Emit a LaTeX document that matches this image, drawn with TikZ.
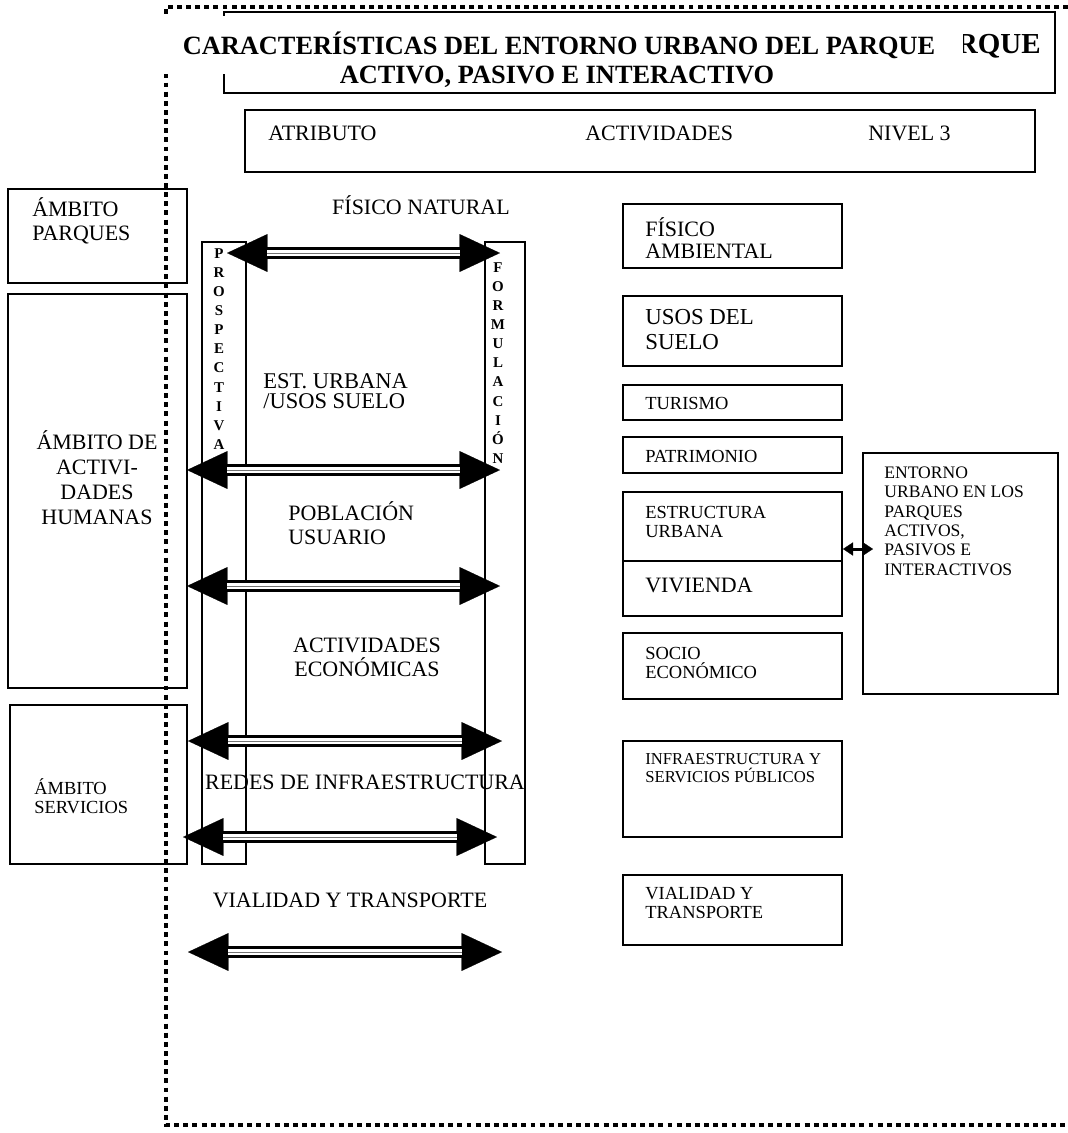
\documentclass[tikz,border=0pt]{standalone}
\usepackage{fontspec}
\setmainfont{Liberation Serif}
\usepackage{xcolor}
\usepackage{tikz}
\usetikzlibrary{arrows.meta, fit}
\tikzstyle{caja} = [rectangle, draw=black, line width=0.8pt, inner sep=0pt]
\tikzstyle{tapa} = [rectangle, fill=white, inner sep=0pt]
\tikzstyle{titulo} = [inner sep=0pt, font=\fontsize{15}{16.5}\selectfont\bfseries]
\tikzstyle{txt} = [inner sep=0pt, align=left, font=\fontsize{12.5}{13.6}\selectfont]
\tikzstyle{txtp} = [inner sep=0pt, align=left, font=\fontsize{10.5}{11.3}\selectfont]
\tikzstyle{letras} = [inner sep=0pt, align=center, font=\fontsize{8.5}{10.85}\selectfont\bfseries]
\tikzstyle{flecha} = [line width=6.8pt, {Triangle[length=23pt, width=21.5pt, line width=0.1pt]}-{Triangle[length=23pt, width=21.5pt, line width=0.1pt]}, postaction={draw=white, line width=3.6pt, arrows=-, shorten <=23pt, shorten >=23pt}, postaction={draw=black!55, line width=0.5pt, arrows=-, shorten <=23pt, shorten >=23pt}]
\tikzstyle{flechita} = [line width=1.7pt, {Triangle[length=5.7pt, width=7.5pt, line width=0.1pt]}-{Triangle[length=5.7pt, width=7.5pt, line width=0.1pt]}]
\tikzstyle{punteado} = [line width=2.6pt, dash pattern=on 2.8pt off 2.4pt]

\begin{document}
\begin{tikzpicture}[x=0.02cm, y=-0.02cm]
\useasboundingbox (0,0) rectangle (1068,1133);

\node (marco) [caja, fit={(224,12) (1055,93)}] {};
\node (resto) [titulo, anchor=east, font=\fontsize{16.5}{18}\selectfont\bfseries] at (1041,46) {RQUE};

\node (cab) [caja, fit={(245,110) (1035,172)}] {};
\node (atr) [txt, anchor=west] at (268,133) {ATRIBUTO};
\node (act) [txt, anchor=west] at (585,133) {ACTIVIDADES};
\node (niv) [txt, anchor=west] at (868,133) {NIVEL 3};

\node (ampq) [caja, fit={(8,189) (187,283)}] {};
\node (tampq) [txt, anchor=west] at (32,221) {ÁMBITO\\PARQUES};
\node (amact) [caja, fit={(8,294) (187,688)}] {};
\node (tamact) [txt, align=center, font=\fontsize{12.5}{14.2}\selectfont] at (97,478) {ÁMBITO DE\\ACTIVI-\\DADES\\HUMANAS};
\node (amser) [caja, fit={(10,705) (187,864)}] {};
\node (tamser) [txtp, anchor=west, font=\fontsize{10.5}{10.8}\selectfont] at (34,796) {ÁMBITO\\SERVICIOS};

\node (prosp) [caja, fit={(202,242) (246,864)}] {};
\node (tprosp) [letras] at (219,349) {P\\R\\O\\S\\P\\E\\C\\T\\I\\V\\A};
\node (form) [caja, fit={(485,242) (525,864)}] {};
\node (tform) [letras] at (498,363) {F\\O\\R\\M\\U\\L\\A\\C\\I\\Ó\\N};

\node (fisnat) [txt] at (421,205) {FÍSICO NATURAL};
\node (esturb) [txt, anchor=west, font=\fontsize{12.8}{11.6}\selectfont] at (263,391) {EST. URBANA\\/USOS SUELO};
\node (pobl) [txt, anchor=west] at (288,523) {POBLACIÓN\\USUARIO};
\node (acteco) [txt, align=center] at (367,657) {ACTIVIDADES\\ECONÓMICAS};
\node (redes) [txt] at (365,782) {REDES DE INFRAESTRUCTURA};
\node (vial) [txt] at (350,900) {VIALIDAD Y TRANSPORTE};

\coordinate (f1a) at (227,253);
\coordinate (f1b) at (500,253);
\coordinate (f2a) at (187,470);
\coordinate (f2b) at (500,470);
\coordinate (f3a) at (187,586);
\coordinate (f3b) at (500,586);
\coordinate (f4a) at (188,741);
\coordinate (f4b) at (502,741);
\coordinate (f5a) at (183,837);
\coordinate (f5b) at (497,837);
\coordinate (f6a) at (188,952);
\coordinate (f6b) at (502,952);

\draw [flecha] (f1a) -- (f1b);
\draw [flecha] (f2a) -- (f2b);
\draw [flecha] (f3a) -- (f3b);
\draw [flecha] (f4a) -- (f4b);
\draw [flecha] (f5a) -- (f5b);
\draw [flecha] (f6a) -- (f6b);

\node (fisamb) [caja, fit={(623,204) (842,268)}] {};
\node (tfisamb) [txt, anchor=west, font=\fontsize{12.5}{12.5}\selectfont] at (645,238) {FÍSICO\\AMBIENTAL};
\node (usos) [caja, fit={(623,296) (842,366)}] {};
\node (tusos) [txt, anchor=west, font=\fontsize{13}{14.2}\selectfont] at (645,330) {USOS DEL\\SUELO};
\node (tur) [caja, fit={(623,385) (842,420)}] {};
\node (ttur) [txtp, anchor=west] at (645,403) {TURISMO};
\node (patr) [caja, fit={(623,437) (842,473)}] {};
\node (tpatr) [txtp, anchor=west] at (645,456) {PATRIMONIO};
\node (estr) [caja, fit={(623,492) (842,561)}] {};
\node (testr) [txtp, anchor=west] at (645,522) {ESTRUCTURA\\URBANA};
\node (viv) [caja, fit={(623,561) (842,616)}] {};
\node (tviv) [txt, anchor=west] at (645,585) {VIVIENDA};
\node (socio) [caja, fit={(623,633) (842,699)}] {};
\node (tsocio) [txtp, anchor=west] at (645,663) {SOCIO\\ECONÓMICO};
\node (infra) [caja, fit={(623,741) (842,837)}] {};
\node (tinfra) [txtp, anchor=west, font=\fontsize{9.5}{10.2}\selectfont] at (645,768) {INFRAESTRUCTURA Y\\SERVICIOS PÚBLICOS};
\node (vialt) [caja, fit={(623,875) (842,945)}] {};
\node (tvialt) [txtp, anchor=west] at (645,903) {VIALIDAD Y\\TRANSPORTE};
\node (entorno) [caja, fit={(863,453) (1058,694)}] {};
\node (tentorno) [txtp, anchor=west, font=\fontsize{10}{11}\selectfont] at (884,521) {ENTORNO\\URBANO EN LOS\\PARQUES\\ACTIVOS,\\PASIVOS E\\INTERACTIVOS};

\coordinate (ea) at (843,549);
\coordinate (eb) at (873,549);
\draw [flechita] (ea) -- (eb);

\draw [punteado] (1068,7) -- (166,7) -- (166,1125) -- (1068,1125);

\node (tapa) [tapa, fit={(158,16) (963,74)}] {};
\node (tit1) [titulo] at (559,45) {CARACTERÍSTICAS DEL ENTORNO URBANO DEL PARQUE};
\node (tit2) [titulo] at (557,77) {ACTIVO, PASIVO E INTERACTIVO};

\end{tikzpicture}
\end{document}
